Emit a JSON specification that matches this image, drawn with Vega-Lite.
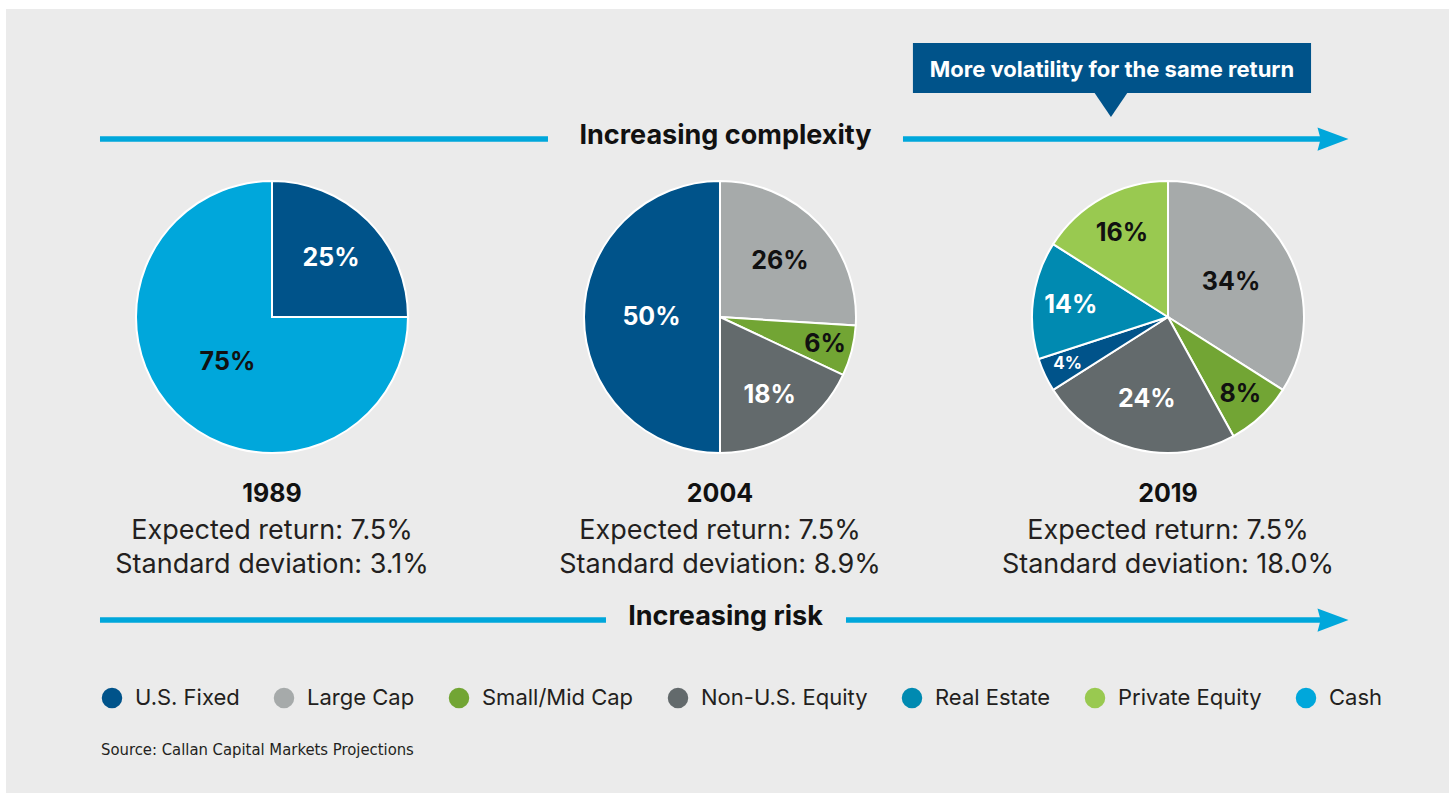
{
  "$schema": "https://vega.github.io/schema/vega-lite/v6.json",
  "width": 1443,
  "height": 784,
  "autosize": {"type": "none"},
  "padding": {"left": 6, "top": 9, "right": 0, "bottom": 0},
  "background": "#ffffff",
  "config": {"view": {"fill": "#EBEBEB", "stroke": null}, "font": "Inter"},
  "datasets": {
    "mix": [
      {"year": 1989, "asset": "U.S. Fixed", "share": 0.25},
      {"year": 1989, "asset": "Cash", "share": 0.75},
      {"year": 2004, "asset": "Large Cap", "share": 0.26},
      {"year": 2004, "asset": "Small/Mid Cap", "share": 0.06},
      {"year": 2004, "asset": "Non-U.S. Equity", "share": 0.18},
      {"year": 2004, "asset": "U.S. Fixed", "share": 0.50},
      {"year": 2019, "asset": "Large Cap", "share": 0.34},
      {"year": 2019, "asset": "Small/Mid Cap", "share": 0.08},
      {"year": 2019, "asset": "Non-U.S. Equity", "share": 0.24},
      {"year": 2019, "asset": "U.S. Fixed", "share": 0.04},
      {"year": 2019, "asset": "Real Estate", "share": 0.14},
      {"year": 2019, "asset": "Private Equity", "share": 0.16}
    ],
    "captions": [
      {"year": 1989, "line": 0, "label": "1989"},
      {"year": 1989, "line": 1, "label": "Expected return: 7.5%"},
      {"year": 1989, "line": 2, "label": "Standard deviation: 3.1%"},
      {"year": 2004, "line": 0, "label": "2004"},
      {"year": 2004, "line": 1, "label": "Expected return: 7.5%"},
      {"year": 2004, "line": 2, "label": "Standard deviation: 8.9%"},
      {"year": 2019, "line": 0, "label": "2019"},
      {"year": 2019, "line": 1, "label": "Expected return: 7.5%"},
      {"year": 2019, "line": 2, "label": "Standard deviation: 18.0%"}
    ]
  },
  "layer": [
    {
      "data": {"name": "mix"},
      "transform": [{"stack": "share", "groupby": ["year"], "as": ["s0", "s1"]}],
      "mark": {"type": "arc", "outerRadius": 136, "stroke": "#ffffff", "strokeWidth": 2},
      "encoding": {
        "x": {"field": "year", "type": "quantitative", "stack": null, "scale": {"domain": [1980.094, 2028.409], "nice": false, "zero": false}, "axis": null},
        "y": {"datum": 308, "type": "quantitative", "scale": {"domain": [0, 784], "reverse": true, "nice": false, "zero": false}, "axis": null},
        "theta": {"field": "s0", "type": "quantitative", "stack": null, "scale": {"domain": [0, 1], "range": [0, 6.283185307]}},
        "theta2": {"field": "s1"},
        "color": {
          "field": "asset", "type": "nominal",
          "scale": {
            "domain": ["U.S. Fixed", "Large Cap", "Small/Mid Cap", "Non-U.S. Equity", "Real Estate", "Private Equity", "Cash"],
            "range": ["#00538A", "#A6AAAA", "#72A534", "#636A6C", "#008AB1", "#99C950", "#00A7DB"]
          },
          "legend": {
            "title": null, "orient": "none", "legendX": 95, "legendY": 678,
            "direction": "horizontal", "columns": 7, "symbolType": "circle", "symbolSize": 420,
            "symbolStrokeWidth": 0, "labelFontSize": 22, "labelFont": "Inter", "labelColor": "#231F20",
            "labelLimit": 400, "columnPadding": 33, "labelOffset": 12, "padding": 0, "offset": 0
          }
        }
      }
    },
    {
      "data": {"name": "mix"},
      "transform": [
        {"stack": "share", "groupby": ["year"], "as": ["s0", "s1"]},
        {"calculate": "(datum.s0 + datum.s1) / 2", "as": "mid"}
      ],
      "mark": {"type": "text", "fontWeight": "bold", "align": "center", "baseline": "middle", "font": "Inter"},
      "encoding": {
        "x": {"field": "year", "type": "quantitative", "stack": null},
        "y": {"datum": 308, "type": "quantitative"},
        "theta": {"field": "mid", "type": "quantitative", "stack": null},
        "radius": {"field": "share", "type": "quantitative", "scale": {"type": "linear", "domain": [0.04, 0.34, 0.75], "range": [111, 72, 63], "zero": false}},
        "text": {"field": "share", "type": "quantitative", "format": ".0%"},
        "fill": {"condition": {"test": "indexof(['U.S. Fixed','Non-U.S. Equity','Real Estate'], datum.asset) >= 0", "value": "#ffffff"}, "value": "#111111"},
        "size": {"condition": {"test": "datum.share < 0.05", "value": 17}, "value": 25}
      }
    },
    {
      "data": {"name": "captions"},
      "transform": [{"filter": "datum.line == 0"}],
      "mark": {"type": "text", "fontWeight": "bold", "fontSize": 25, "align": "center", "baseline": "middle", "color": "#111111", "font": "Inter"},
      "encoding": {
        "x": {"field": "year", "type": "quantitative"},
        "y": {"datum": 485, "type": "quantitative"},
        "text": {"field": "label"}
      }
    },
    {
      "data": {"name": "captions"},
      "transform": [{"filter": "datum.line == 1"}],
      "mark": {"type": "text", "fontSize": 27, "align": "center", "baseline": "middle", "color": "#231F20", "font": "Inter"},
      "encoding": {
        "x": {"field": "year", "type": "quantitative"},
        "y": {"datum": 522, "type": "quantitative"},
        "text": {"field": "label"}
      }
    },
    {
      "data": {"name": "captions"},
      "transform": [{"filter": "datum.line == 2"}],
      "mark": {"type": "text", "fontSize": 27, "align": "center", "baseline": "middle", "color": "#231F20", "font": "Inter"},
      "encoding": {
        "x": {"field": "year", "type": "quantitative"},
        "y": {"datum": 556, "type": "quantitative"},
        "text": {"field": "label"}
      }
    },
    {
      "data": {"values": [{}]},
      "mark": {"type": "rule", "stroke": "#00A7DB", "strokeWidth": 5.5},
      "encoding": {"x": {"datum": 1983.241, "type": "quantitative"}, "x2": {"datum": 1998.241}, "y": {"datum": 130, "type": "quantitative"}}
    },
    {
      "data": {"values": [{}]},
      "mark": {"type": "rule", "stroke": "#00A7DB", "strokeWidth": 5.5},
      "encoding": {"x": {"datum": 2010.127, "type": "quantitative"}, "x2": {"datum": 2024.16}, "y": {"datum": 130, "type": "quantitative"}}
    },
    {
      "data": {"values": [{}]},
      "mark": {"type": "rule", "stroke": "#00A7DB", "strokeWidth": 5.5},
      "encoding": {"x": {"datum": 1983.241, "type": "quantitative"}, "x2": {"datum": 2000.183}, "y": {"datum": 611, "type": "quantitative"}}
    },
    {
      "data": {"values": [{}]},
      "mark": {"type": "rule", "stroke": "#00A7DB", "strokeWidth": 5.5},
      "encoding": {"x": {"datum": 2008.219, "type": "quantitative"}, "x2": {"datum": 2024.16}, "y": {"datum": 611, "type": "quantitative"}}
    },
    {
      "data": {"values": [{}]},
      "mark": {"type": "point", "filled": true, "fill": "#00A7DB", "opacity": 1, "strokeWidth": 0, "size": 961, "shape": "M-1,-0.75L1,0L-1,0.75L-0.8,0Z"},
      "encoding": {"x": {"datum": 2024.525, "type": "quantitative"}, "y": {"datum": 130, "type": "quantitative"}}
    },
    {
      "data": {"values": [{}]},
      "mark": {"type": "point", "filled": true, "fill": "#00A7DB", "opacity": 1, "strokeWidth": 0, "size": 961, "shape": "M-1,-0.75L1,0L-1,0.75L-0.8,0Z"},
      "encoding": {"x": {"datum": 2024.525, "type": "quantitative"}, "y": {"datum": 611, "type": "quantitative"}}
    },
    {
      "data": {"values": [{}]},
      "mark": {"type": "text", "text": "Increasing complexity", "fontWeight": "bold", "fontSize": 27, "align": "center", "baseline": "middle", "color": "#111111", "font": "Inter"},
      "encoding": {"x": {"datum": 2004.184, "type": "quantitative"}, "y": {"datum": 127, "type": "quantitative"}}
    },
    {
      "data": {"values": [{}]},
      "mark": {"type": "text", "text": "Increasing risk", "fontWeight": "bold", "fontSize": 27, "align": "center", "baseline": "middle", "color": "#111111", "font": "Inter"},
      "encoding": {"x": {"datum": 2004.184, "type": "quantitative"}, "y": {"datum": 608, "type": "quantitative"}}
    },
    {
      "data": {"values": [{}]},
      "mark": {"type": "rect", "fill": "#00538A"},
      "encoding": {"x": {"datum": 2010.46, "type": "quantitative"}, "x2": {"datum": 2023.79}, "y": {"datum": 34, "type": "quantitative"}, "y2": {"datum": 84}}
    },
    {
      "data": {"values": [{}]},
      "mark": {"type": "point", "filled": true, "fill": "#00538A", "opacity": 1, "strokeWidth": 0, "size": 1156, "shape": "M-1,-1L1,-1L0,0.47Z"},
      "encoding": {"x": {"datum": 2017.09, "type": "quantitative"}, "y": {"datum": 100, "type": "quantitative"}}
    },
    {
      "data": {"values": [{}]},
      "mark": {"type": "text", "text": "More volatility for the same return", "fontWeight": "bold", "fontSize": 22, "align": "center", "baseline": "middle", "color": "#ffffff", "font": "Inter"},
      "encoding": {"x": {"datum": 2017.125, "type": "quantitative"}, "y": {"datum": 61, "type": "quantitative"}}
    },
    {
      "data": {"values": [{}]},
      "mark": {"type": "text", "text": "Source: Callan Capital Markets Projections", "fontSize": 16.5, "align": "left", "baseline": "middle", "color": "#231F20", "font": "Liberation Sans Narrow, DejaVu Sans Condensed, sans-serif"},
      "encoding": {"x": {"datum": 1983.275, "type": "quantitative"}, "y": {"datum": 741, "type": "quantitative"}}
    }
  ]
}
